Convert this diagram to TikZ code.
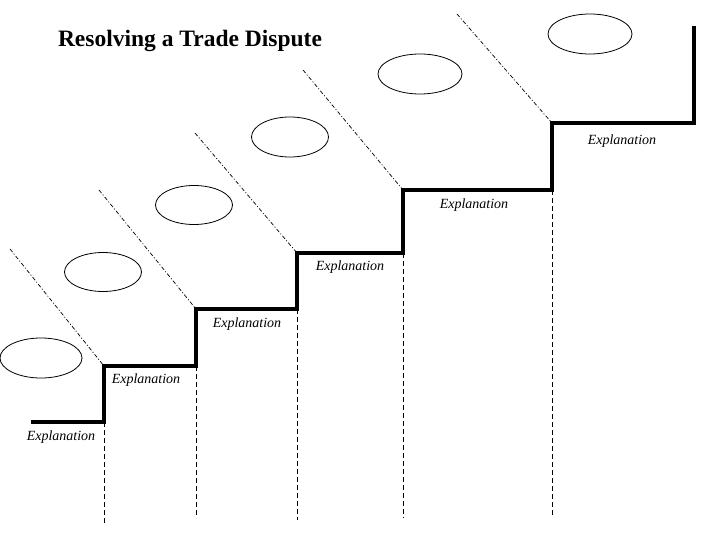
\documentclass[tikz,border=0pt]{standalone}
\usepackage{fontspec}
\setmainfont{Liberation Serif}
\usetikzlibrary{shapes.geometric}

\begin{document}
\begin{tikzpicture}[x=1pt,y=-1pt,
  stair/.style={line width=4pt,line join=miter,line cap=butt},
  guide/.style={line width=0.8pt,dash pattern=on 5pt off 3pt},
  slant/.style={line width=0.7pt,dash pattern=on 4pt off 2pt on 1pt off 2pt},
  bubble/.style={draw,ellipse,line width=0.8pt,inner sep=0pt},
  expl/.style={font=\fontsize{14}{16}\selectfont\itshape,anchor=base}]
  \useasboundingbox (0,0) rectangle (720,540);
  % title
  \node[font=\fontsize{23.5}{28}\selectfont\bfseries,anchor=base] (title) at (190,47) {Resolving a Trade Dispute};
  % staircase corners
  \coordinate (s0) at (31,422);
  \coordinate (s1) at (104,422);
  \coordinate (s2) at (104,366);
  \coordinate (s3) at (196,366);
  \coordinate (s4) at (196,309);
  \coordinate (s5) at (297,309);
  \coordinate (s6) at (297,253);
  \coordinate (s7) at (403,253);
  \coordinate (s8) at (403,190);
  \coordinate (s9) at (552,190);
  \coordinate (s10) at (552,123);
  \coordinate (s11) at (694,123);
  \coordinate (s12) at (694,26);
  % dashed drop lines
  \coordinate (b1) at (104,524);
  \coordinate (b2) at (196,517);
  \coordinate (b3) at (297,520);
  \coordinate (b4) at (403,518);
  \coordinate (b5) at (552,515);
  \draw[guide] (s1) -- (b1);
  \draw[guide] (s3) -- (b2);
  \draw[guide] (s5) -- (b3);
  \draw[guide] (s7) -- (b4);
  \draw[guide] (s9) -- (b5);
  % slanted lines
  \coordinate (d1) at (10,249);
  \coordinate (d2) at (99,190);
  \coordinate (d3) at (195,133);
  \coordinate (d4) at (303,70);
  \coordinate (d5) at (457,14);
  \draw[slant] (d1) -- (s2);
  \draw[slant] (d2) -- (s4);
  \draw[slant] (d3) -- (s6);
  \draw[slant] (d4) -- (s8);
  \draw[slant] (d5) -- (s10);
  % the steps
  \draw[stair] (s0) -- (s1) -- (s2) -- (s3) -- (s4) -- (s5) -- (s6) -- (s7)
    -- (s8) -- (s9) -- (s10) -- (s11) -- (s12);
  % ellipses
  \node[bubble,minimum width=82pt,minimum height=40pt] (e1) at (41,358) {};
  \node[bubble,minimum width=77pt,minimum height=39pt] (e2) at (103,272) {};
  \node[bubble,minimum width=77pt,minimum height=39pt] (e3) at (194,205) {};
  \node[bubble,minimum width=77pt,minimum height=40pt] (e4) at (290,137) {};
  \node[bubble,minimum width=84pt,minimum height=40pt] (e5) at (420,74) {};
  \node[bubble,minimum width=84pt,minimum height=40pt] (e6) at (590,34) {};
  % labels
  \node[expl] (x1) at (61,440) {Explanation};
  \node[expl] (x2) at (146,383) {Explanation};
  \node[expl] (x3) at (247,327) {Explanation};
  \node[expl] (x4) at (350,270) {Explanation};
  \node[expl] (x5) at (474,208) {Explanation};
  \node[expl] (x6) at (622,145) {Explanation};
\end{tikzpicture}
\end{document}
